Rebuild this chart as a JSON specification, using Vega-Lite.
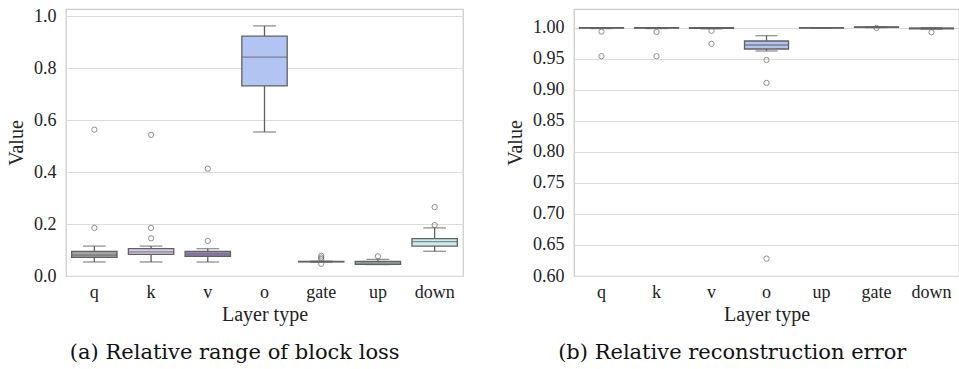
{
  "$schema": "https://vega.github.io/schema/vega-lite/v6.json",
  "padding": {"left": 5, "top": 6, "right": 0, "bottom": 0},
  "background": "white",
  "spacing": 40,
  "datasets": {
    "boxA": [
      {"layer": "q", "lower": 0.054, "q1": 0.072, "median": 0.080, "q3": 0.095, "upper": 0.115},
      {"layer": "k", "lower": 0.054, "q1": 0.083, "median": 0.093, "q3": 0.105, "upper": 0.115},
      {"layer": "v", "lower": 0.054, "q1": 0.076, "median": 0.085, "q3": 0.095, "upper": 0.105},
      {"layer": "o", "lower": 0.554, "q1": 0.731, "median": 0.842, "q3": 0.923, "upper": 0.962},
      {"layer": "gate", "lower": 0.053, "q1": 0.054, "median": 0.055, "q3": 0.056, "upper": 0.057},
      {"layer": "up", "lower": 0.044, "q1": 0.045, "median": 0.050, "q3": 0.056, "upper": 0.064},
      {"layer": "down", "lower": 0.095, "q1": 0.115, "median": 0.132, "q3": 0.144, "upper": 0.185}
    ],
    "outA": [
      {"layer": "q", "value": 0.563}, {"layer": "q", "value": 0.185},
      {"layer": "k", "value": 0.543}, {"layer": "k", "value": 0.185}, {"layer": "k", "value": 0.145},
      {"layer": "v", "value": 0.413}, {"layer": "v", "value": 0.135},
      {"layer": "gate", "value": 0.078}, {"layer": "gate", "value": 0.071}, {"layer": "gate", "value": 0.065}, {"layer": "gate", "value": 0.047},
      {"layer": "up", "value": 0.076},
      {"layer": "down", "value": 0.265}, {"layer": "down", "value": 0.196}
    ],
    "boxB": [
      {"layer": "q", "lower": 0.9985, "q1": 0.9993, "median": 0.9997, "q3": 1.0, "upper": 1.0},
      {"layer": "k", "lower": 0.9985, "q1": 0.9992, "median": 0.9996, "q3": 1.0, "upper": 1.0},
      {"layer": "v", "lower": 0.998, "q1": 0.999, "median": 0.9995, "q3": 1.0, "upper": 1.0},
      {"layer": "o", "lower": 0.9624, "q1": 0.9656, "median": 0.972, "q3": 0.9785, "upper": 0.987},
      {"layer": "up", "lower": 0.999, "q1": 0.9993, "median": 0.9996, "q3": 0.9998, "upper": 1.0},
      {"layer": "gate", "lower": 1.0, "q1": 1.0005, "median": 1.0008, "q3": 1.001, "upper": 1.0015},
      {"layer": "down", "lower": 0.9975, "q1": 0.998, "median": 0.999, "q3": 0.9993, "upper": 1.0}
    ],
    "outB": [
      {"layer": "q", "value": 0.9935}, {"layer": "q", "value": 0.954},
      {"layer": "k", "value": 0.993}, {"layer": "k", "value": 0.954},
      {"layer": "v", "value": 0.995}, {"layer": "v", "value": 0.974},
      {"layer": "o", "value": 0.948}, {"layer": "o", "value": 0.911}, {"layer": "o", "value": 0.628},
      {"layer": "gate", "value": 0.9995},
      {"layer": "down", "value": 0.9925}
    ]
  },
  "hconcat": [
    {
      "width": 397,
      "height": 267,
      "title": {"text": "(a) Relative range of block loss", "orient": "bottom", "anchor": "middle", "frame": "bounds", "font": "DejaVu Serif", "fontSize": 21, "fontWeight": "normal", "color": "#111111", "offset": 18},
      "layer": [
        {
          "data": {"name": "boxA"},
          "mark": {"type": "rule", "stroke": "#616161", "strokeWidth": 1.3},
          "encoding": {
            "x": {"field": "layer", "type": "nominal", "scale": {"domain": ["q", "k", "v", "o", "gate", "up", "down"]}, "axis": {"title": "Layer type"}},
            "y": {"field": "lower", "type": "quantitative", "scale": {"domain": [0, 1.027], "nice": false, "zero": false}, "axis": {"title": "Value", "values": [0, 0.2, 0.4, 0.6, 0.8, 1.0], "format": ".1f"}},
            "y2": {"field": "upper"}
          }
        },
        {
          "data": {"name": "boxA"},
          "mark": {"type": "tick", "size": 22.7, "thickness": 1.3, "color": "#616161"},
          "encoding": {
            "x": {"field": "layer", "type": "nominal", "axis": {"title": "Layer type"}},
            "y": {"field": "lower", "type": "quantitative", "axis": {"title": "Value", "values": [0, 0.2, 0.4, 0.6, 0.8, 1.0], "format": ".1f"}}
          }
        },
        {
          "data": {"name": "boxA"},
          "mark": {"type": "tick", "size": 22.7, "thickness": 1.3, "color": "#616161"},
          "encoding": {
            "x": {"field": "layer", "type": "nominal", "axis": {"title": "Layer type"}},
            "y": {"field": "upper", "type": "quantitative", "axis": {"title": "Value", "values": [0, 0.2, 0.4, 0.6, 0.8, 1.0], "format": ".1f"}}
          }
        },
        {
          "data": {"name": "boxA"},
          "mark": {"type": "bar", "width": {"band": 0.8}, "stroke": "#616161", "strokeWidth": 1.3},
          "encoding": {
            "x": {"field": "layer", "type": "nominal", "axis": {"title": "Layer type"}},
            "y": {"field": "q1", "type": "quantitative", "axis": {"title": "Value", "values": [0, 0.2, 0.4, 0.6, 0.8, 1.0], "format": ".1f"}},
            "y2": {"field": "q3"},
            "color": {"field": "layer", "type": "nominal", "legend": null, "scale": {"domain": ["q", "k", "v", "o", "gate", "up", "down"], "range": ["#a3a3a3", "#d8cce6", "#9c86c0", "#b2c5f2", "#a9c2e0", "#b8e2d4", "#c9ecef"]}}
          }
        },
        {
          "data": {"name": "boxA"},
          "mark": {"type": "tick", "size": 45.4, "thickness": 1.3, "color": "#616161"},
          "encoding": {
            "x": {"field": "layer", "type": "nominal", "axis": {"title": "Layer type"}},
            "y": {"field": "median", "type": "quantitative", "axis": {"title": "Value", "values": [0, 0.2, 0.4, 0.6, 0.8, 1.0], "format": ".1f"}}
          }
        },
        {
          "data": {"name": "outA"},
          "mark": {"type": "point", "shape": "circle", "filled": false, "size": 28, "stroke": "#616161", "strokeWidth": 1},
          "encoding": {
            "x": {"field": "layer", "type": "nominal", "axis": {"title": "Layer type"}},
            "y": {"field": "value", "type": "quantitative", "axis": {"title": "Value", "values": [0, 0.2, 0.4, 0.6, 0.8, 1.0], "format": ".1f"}}
          }
        }
      ]
    },
    {
      "width": 385,
      "height": 267,
      "title": {"text": "(b) Relative reconstruction error", "orient": "bottom", "anchor": "middle", "frame": "bounds", "font": "DejaVu Serif", "fontSize": 21, "fontWeight": "normal", "color": "#111111", "offset": 18},
      "layer": [
        {
          "data": {"name": "boxB"},
          "mark": {"type": "rule", "stroke": "#616161", "strokeWidth": 1.3},
          "encoding": {
            "x": {"field": "layer", "type": "nominal", "scale": {"domain": ["q", "k", "v", "o", "up", "gate", "down"]}, "axis": {"title": "Layer type"}},
            "y": {"field": "lower", "type": "quantitative", "scale": {"domain": [0.6, 1.03], "nice": false, "zero": false}, "axis": {"title": "Value", "values": [0.6, 0.65, 0.7, 0.75, 0.8, 0.85, 0.9, 0.95, 1.0], "format": ".2f"}},
            "y2": {"field": "upper"}
          }
        },
        {
          "data": {"name": "boxB"},
          "mark": {"type": "tick", "size": 22, "thickness": 1.3, "color": "#616161"},
          "encoding": {
            "x": {"field": "layer", "type": "nominal", "axis": {"title": "Layer type"}},
            "y": {"field": "lower", "type": "quantitative", "axis": {"title": "Value", "values": [0.6, 0.65, 0.7, 0.75, 0.8, 0.85, 0.9, 0.95, 1.0], "format": ".2f"}}
          }
        },
        {
          "data": {"name": "boxB"},
          "mark": {"type": "tick", "size": 22, "thickness": 1.3, "color": "#616161"},
          "encoding": {
            "x": {"field": "layer", "type": "nominal", "axis": {"title": "Layer type"}},
            "y": {"field": "upper", "type": "quantitative", "axis": {"title": "Value", "values": [0.6, 0.65, 0.7, 0.75, 0.8, 0.85, 0.9, 0.95, 1.0], "format": ".2f"}}
          }
        },
        {
          "data": {"name": "boxB"},
          "mark": {"type": "bar", "width": {"band": 0.8}, "stroke": "#616161", "strokeWidth": 1.3},
          "encoding": {
            "x": {"field": "layer", "type": "nominal", "axis": {"title": "Layer type"}},
            "y": {"field": "q1", "type": "quantitative", "axis": {"title": "Value", "values": [0.6, 0.65, 0.7, 0.75, 0.8, 0.85, 0.9, 0.95, 1.0], "format": ".2f"}},
            "y2": {"field": "q3"},
            "color": {"field": "layer", "type": "nominal", "legend": null, "scale": {"domain": ["q", "k", "v", "o", "gate", "up", "down"], "range": ["#a3a3a3", "#d8cce6", "#9c86c0", "#b2c5f2", "#a9c2e0", "#b8e2d4", "#c9ecef"]}}
          }
        },
        {
          "data": {"name": "boxB"},
          "mark": {"type": "tick", "size": 44, "thickness": 1.3, "color": "#616161"},
          "encoding": {
            "x": {"field": "layer", "type": "nominal", "axis": {"title": "Layer type"}},
            "y": {"field": "median", "type": "quantitative", "axis": {"title": "Value", "values": [0.6, 0.65, 0.7, 0.75, 0.8, 0.85, 0.9, 0.95, 1.0], "format": ".2f"}}
          }
        },
        {
          "data": {"name": "outB"},
          "mark": {"type": "point", "shape": "circle", "filled": false, "size": 28, "stroke": "#616161", "strokeWidth": 1},
          "encoding": {
            "x": {"field": "layer", "type": "nominal", "axis": {"title": "Layer type"}},
            "y": {"field": "value", "type": "quantitative", "axis": {"title": "Value", "values": [0.6, 0.65, 0.7, 0.75, 0.8, 0.85, 0.9, 0.95, 1.0], "format": ".2f"}}
          }
        }
      ]
    }
  ],
  "config": {
    "view": {"stroke": "#cccccc", "strokeWidth": 1.25},
    "axis": {
      "labelFont": "Liberation Serif",
      "labelFontSize": 18,
      "labelColor": "#222222",
      "titleFont": "Liberation Serif",
      "titleFontSize": 20,
      "titleFontWeight": "normal",
      "titleColor": "#222222",
      "ticks": false,
      "domain": false,
      "gridColor": "#dcdcdc",
      "gridWidth": 1,
      "labelOverlap": false
    },
    "axisX": {"grid": false, "labelAngle": 0, "labelPadding": 7, "titlePadding": 3},
    "axisY": {"grid": true, "labelPadding": 10, "titlePadding": 7},
    "scale": {"bandPaddingInner": 0, "bandPaddingOuter": 0}
  }
}
